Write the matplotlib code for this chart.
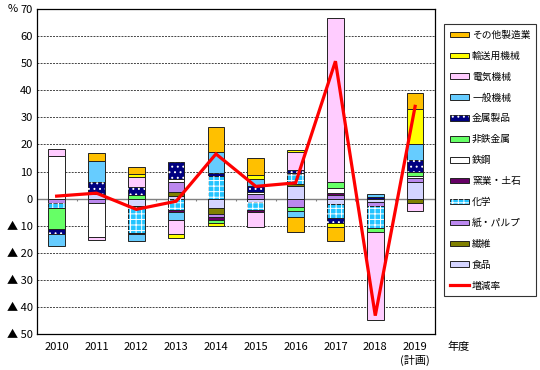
import numpy as np
import matplotlib
matplotlib.use('Agg')
import matplotlib.pyplot as plt
from matplotlib.patches import Patch
from matplotlib.lines import Line2D

plt.rcParams['font.family'] = ['Noto Sans CJK JP', 'DejaVu Sans']
plt.rcParams['hatch.linewidth'] = 0.7

years = ['2010', '2011', '2012', '2013', '2014', '2015', '2016', '2017', '2018', '2019']
sectors = ['食品', '繊維', '紙・パルプ', '化学', '窯業・土石', '鉄鋼', '非鉄金属',
           '金属製品', '一般機械', '電気機械', '輸送用機械', 'その他製造業']

food      = [0.0, 1.7, -2.8, 1.0, -3.4, -1.3, 4.8, -2.2, -1.2, 6.0]
textile   = [0.0, 0.0, -0.5, 1.6, -2.4, 0.0, 0.4, 0.0, 0.0, -1.6]
paper     = [-1.7, -1.5, 0.0, 3.6, -1.1, 1.7, -3.2, 1.4, -1.6, 1.7]
chemical  = [-1.8, 0.0, -9.3, -4.4, 8.5, -2.9, 3.8, -5.0, -8.1, 0.0]
ceramic   = [0.0, 0.0, -0.4, -0.4, -0.9, -0.8, 0.4, 0.5, 0.0, 0.0]
steel     = [15.8, -12.8, 0.0, 1.0, 0.0, 0.6, 0.0, 2.1, 0.0, 0.8]
nonferrous= [-7.8, 0.0, 1.2, 0.0, -1.2, 0.0, -1.5, 2.2, -1.6, 1.3]
metal     = [-1.8, 4.6, 3.1, 6.3, 1.0, 2.4, 1.0, -2.0, 0.4, 4.4]
general   = [-4.3, 7.5, -2.8, -3.1, 7.6, 2.6, -2.2, 0.0, 1.1, 5.8]
electric  = [2.7, -0.9, 3.5, -5.3, 0.0, -5.4, 6.7, 60.4, -32.3, -3.1]
transport = [0.0, 0.0, 1.3, -1.3, -1.0, 1.4, 1.0, -1.5, 0.0, 13.3]
other     = [0.0, 3.1, 2.5, 0.0, 9.2, 6.4, -5.6, -5.0, 0.0, 5.6]
rate      = [0.9, 2.0, -4.0, -1.0, 16.5, 4.5, 5.8, 50.8, -43.3, 34.1]

series = [food, textile, paper, chemical, ceramic, steel, nonferrous,
          metal, general, electric, transport, other]

face = ['#D4D4FF', '#808000', '#BB88EE', '#22C4FF', '#660066', '#FFFFFF',
        '#66FF66', '#000080', '#66CCFF', '#FFCCFF', '#FFFF00', '#FFC000']
hatch = [None, None, None, '+++', None, None, None, '...', None, None, None, None]

fig = plt.figure(figsize=(5.4, 3.7), dpi=100)
ax = fig.add_axes([0.068, 0.098, 0.7376, 0.8769])

x = np.arange(len(years))
w = 0.42
pos = np.zeros(len(years))
neg = np.zeros(len(years))
handles = []
for vals, fc, h, name in zip(series, face, hatch, sectors):
    v = np.array(vals)
    for mask, base in ((v > 0, pos), (v < 0, neg)):
        if mask.any():
            ax.bar(x[mask], v[mask], w, bottom=base[mask], color=fc,
                   edgecolor='#222222', linewidth=0.7, zorder=3)
            if h:
                ax.bar(x[mask], v[mask], w, bottom=base[mask], fill=False,
                       hatch=h, edgecolor='white', linewidth=0, zorder=3.5)
    pos += np.where(v > 0, v, 0)
    neg += np.where(v < 0, v, 0)
    base_patch = Patch(facecolor=fc, edgecolor='#222222', linewidth=0.7)
    if h:
        handles.append(((base_patch, Patch(fill=False, hatch=h, edgecolor='white', linewidth=0)), name))
    else:
        handles.append((base_patch, name))

ax.plot(x, rate, color='#FF0000', linewidth=2.3, zorder=5, solid_joinstyle='miter')

ax.set_xlim(-0.5, len(years) - 0.5)
ax.set_ylim(-50, 70)
yt = np.arange(-50, 71, 10)
ax.set_yticks(yt)
ax.set_yticklabels([f'▲ {abs(t)}' if t < 0 else str(t) for t in yt], fontsize=8)
ax.set_xticks(x)
ax.set_xticklabels(years, fontsize=8)
ax.tick_params(axis='both', length=0)
ax.tick_params(axis='y', pad=3)
ax.tick_params(axis='x', pad=6)
for t in yt:
    if -50 < t < 70 and t != 0:
        ax.axhline(t, color='#444444', linewidth=0.7, linestyle=(0, (2, 1.2)), zorder=1)
ax.axhline(0, color='#808080', linewidth=1.0, zorder=2)
ax.vlines(x[:-1] + 0.5, -0.8, 0, color='#808080', linewidth=0.8, zorder=2)
for s in ax.spines.values():
    s.set_color('#000000')
    s.set_linewidth(0.9)

fig.text(0.015, 0.975, '%', fontsize=8, va='center', ha='left')
fig.text(0.828, 0.062, '年度', fontsize=8, va='center', ha='left')
fig.text(0.768, 0.026, '(計画)', fontsize=8, va='center', ha='center')

leg_h = [h for h, _ in handles][::-1] + [Line2D([], [], color='#FF0000', linewidth=2.3)]
leg_l = [l for _, l in handles][::-1] + ['増減率']
leg = fig.legend(leg_h, leg_l, loc='upper left', bbox_to_anchor=(0.822, 0.935),
                 fontsize=7, frameon=True, fancybox=False, edgecolor='#000000',
                 handlelength=2.0, handleheight=0.5, labelspacing=1.12,
                 handletextpad=0.3, borderpad=0.6, borderaxespad=0)
leg.get_frame().set_linewidth(0.8)

fig.savefig('out.png', dpi=100)
